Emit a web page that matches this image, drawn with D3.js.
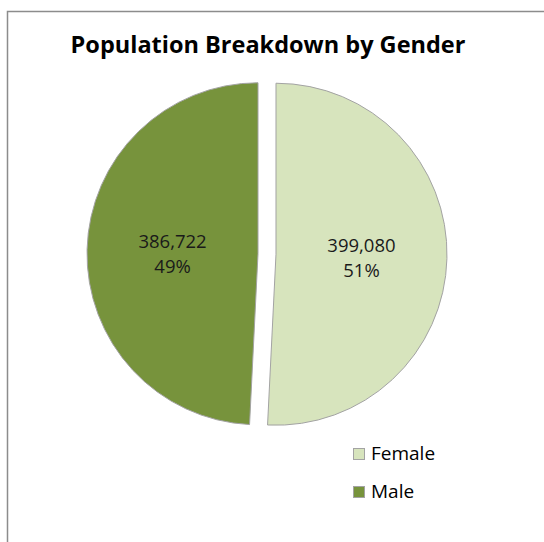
<!DOCTYPE html>
<html>
<head>
<meta charset="utf-8">
<script src="https://cdn.jsdelivr.net/npm/d3@7"></script>
<style>
  html, body { margin: 0; padding: 0; background: #fff; }
  svg { display: block; }
  text { font-family: "Open Sans", "Noto Sans", sans-serif; fill: #000; }
</style>
</head>
<body>
<svg id="chart" width="544" height="542"></svg>
<script>
const title = "Population Breakdown by Gender";
const categories = ["Female", "Male"];
const values = [399080, 386722];
const colors = ["#D7E4BD", "#77933C"];

const svg = d3.select("#chart");

// chart area border (extends beyond the window on right/bottom)
svg.append("rect")
  .attr("x", 7.5).attr("y", 11.5)
  .attr("width", 700).attr("height", 700)
  .attr("fill", "#fff")
  .attr("stroke", "#8c8c8c")
  .attr("stroke-width", 1.5);

svg.append("text")
  .attr("x", 268).attr("y", 53)
  .attr("text-anchor", "middle")
  .style("font-weight", "bold")
  .style("font-size", "23.5px")
  .text(title);

const cx = 267, cy = 254, r = 171, explode = 9;
const total = d3.sum(values);
const pie = d3.pie().sort(null).value(d => d.value);
const data = pie(categories.map((c, i) => ({ name: c, value: values[i], color: colors[i] })));
const arc = d3.arc().innerRadius(0).outerRadius(r);

const g = svg.append("g").attr("transform", `translate(${cx},${cy})`);
const slices = g.selectAll("g.slice").data(data).enter().append("g")
  .attr("class", "slice")
  .attr("transform", d => {
    const a = (d.startAngle + d.endAngle) / 2;
    return `translate(${explode * Math.sin(a)},${-explode * Math.cos(a)})`;
  });

slices.append("path")
  .attr("d", arc)
  .attr("fill", d => d.data.color)
  .attr("stroke", "#a3a3a3")
  .attr("stroke-width", 1);

const fmt = d3.format(",");
const pct = d3.format(".0%");
slices.each(function(d) {
  const [x, y] = arc.centroid(d);
  const t = d3.select(this).append("text")
    .attr("text-anchor", "middle")
    .style("font-size", "18.5px")
    .style("fill", "#1a1a1a");
  t.append("tspan").attr("x", x).attr("y", y - 4).text(fmt(d.data.value));
  t.append("tspan").attr("x", x).attr("y", y + 21).text(pct(d.data.value / total));
});

// legend
const legend = svg.append("g").attr("transform", "translate(353,448)");
const items = legend.selectAll("g").data(categories).enter().append("g")
  .attr("transform", (d, i) => `translate(0,${i * 38})`);
items.append("rect")
  .attr("x", 0.5).attr("y", 0.5)
  .attr("width", 11).attr("height", 11)
  .attr("fill", (d, i) => colors[i])
  .attr("stroke", "#a3a3a3").attr("stroke-width", 1);
items.append("text")
  .attr("x", 18).attr("y", 11.5)
  .style("font-size", "19px")
  .text(d => d);
</script>
</body>
</html>
